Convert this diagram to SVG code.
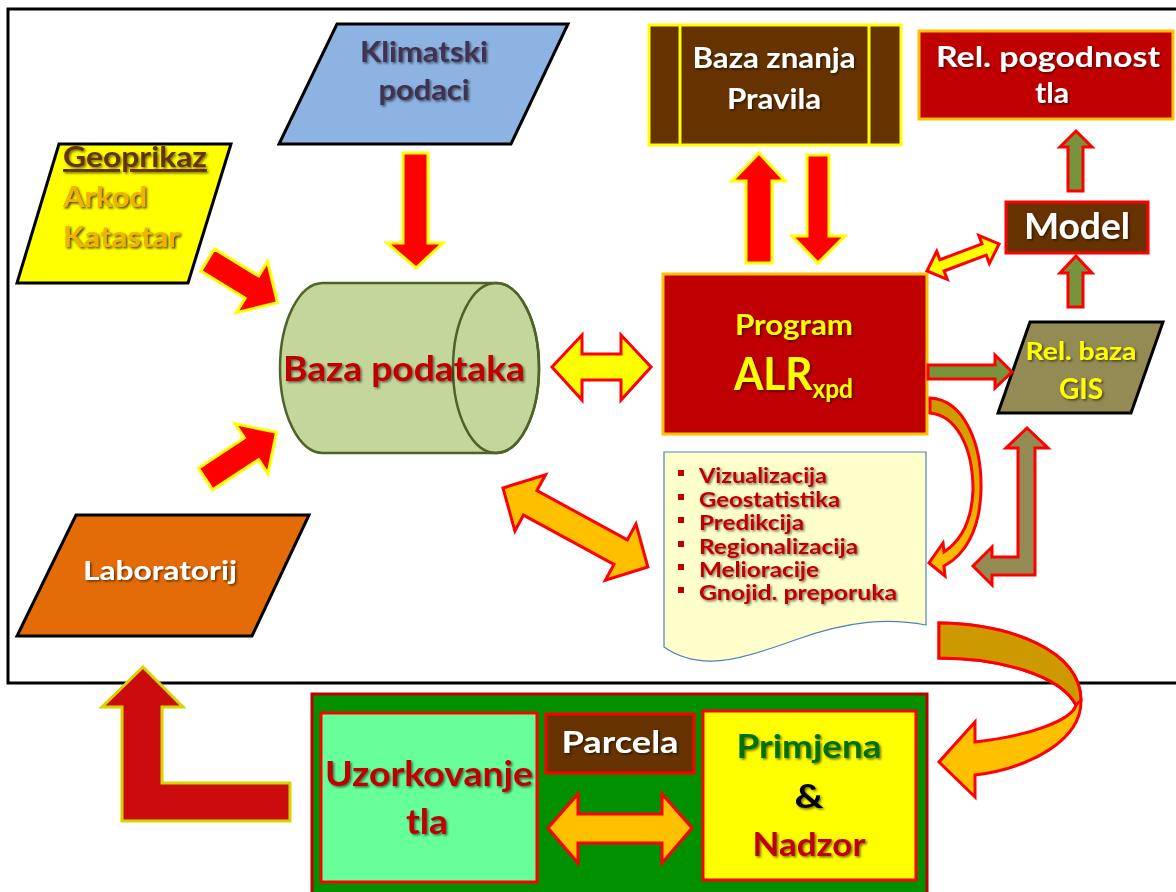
<svg xmlns="http://www.w3.org/2000/svg" width="1176" height="892" viewBox="0 0 1176 892">
<defs>
<filter id="sh" x="-10%" y="-20%" width="120%" height="150%">
<feDropShadow dx="1.5" dy="1.5" stdDeviation="1" flood-color="#000" flood-opacity="0.55"/>
</filter>
<filter id="sh2" x="-10%" y="-20%" width="120%" height="150%">
<feDropShadow dx="1.5" dy="1.5" stdDeviation="0.8" flood-color="#3a2000" flood-opacity="0.9"/>
</filter>
<linearGradient id="cg" x1="0" y1="0" x2="0" y2="1">
<stop offset="0" stop-color="#c99700"/>
<stop offset="1" stop-color="#ffc000"/>
</linearGradient>
<style>
text{font-family:Lato,"Open Sans","DejaVu Sans",sans-serif;font-weight:bold;}
.sh{filter:url(#sh);}
.sh2{filter:url(#sh2);}
.blk{stroke:#000;stroke-width:3;}
.red{stroke:#ff0000;stroke-width:3;}
.ylw{stroke:#ffff00;stroke-width:3;}
.gld{stroke:#ffc000;stroke-width:3;}
.arR{fill:#ff0000;stroke:#ffff00;stroke-width:3;stroke-linejoin:miter;}
.arO{fill:#77933c;stroke:#ff0000;stroke-width:3;}
.arK{fill:#948a54;stroke:#ff0000;stroke-width:3;}
.arY{fill:#ffff00;stroke:#ff0000;stroke-width:3;}
.arG{fill:#ffc000;stroke:#ff0000;stroke-width:3;}
.li{fill:#c00000;font-size:20px;}
</style>
</defs>
<rect width="1176" height="892" fill="#ffffff"/>
<path d="M1180,9 H8 V683 H1180" fill="none" stroke="#000" stroke-width="3"/>

<g id="geoprikaz">
<polygon points="59,144 231,144 188,283 17,283" fill="#ffff00" class="blk"/>
<text x="63" y="167" font-size="29" fill="#663300" text-decoration="underline" textLength="144" lengthAdjust="spacingAndGlyphs" class="sh">Geoprikaz</text>
<text x="63" y="207" font-size="29" fill="#f0b400" textLength="84" lengthAdjust="spacingAndGlyphs" class="sh2">Arkod</text>
<text x="63" y="247" font-size="29" fill="#f0b400" textLength="117" lengthAdjust="spacingAndGlyphs" class="sh2">Katastar</text>
</g>

<g id="klimatski">
<polygon points="337,24 568,24 511,144 279,144" fill="#8db3e2" class="blk"/>
<text x="424" y="62" font-size="28" fill="#3f3151" text-anchor="middle" textLength="128" lengthAdjust="spacingAndGlyphs" class="sh">Klimatski</text>
<text x="424" y="100" font-size="28" fill="#3f3151" text-anchor="middle" textLength="91" lengthAdjust="spacingAndGlyphs" class="sh">podaci</text>
</g>

<g id="baza-podataka">
<path d="M323,283 H496 A43,85 0 0 1 496,453 H323 A43,85 0 0 1 323,283 Z" fill="#c3d69b" stroke="#4f6228" stroke-width="2.5"/>
<ellipse cx="496" cy="368" rx="43" ry="85" fill="none" stroke="#4f6228" stroke-width="2.5"/>
<text x="404" y="381" font-size="35" fill="#c00000" text-anchor="middle" textLength="242" lengthAdjust="spacingAndGlyphs" class="sh">Baza podataka</text>
</g>

<g id="laboratorij">
<polygon points="76,515 309,515 252,636 17,636" fill="#e36c09" class="blk"/>
<text x="160" y="580" font-size="26" fill="#ffffff" text-anchor="middle" textLength="154" lengthAdjust="spacingAndGlyphs" class="sh">Laboratorij</text>
</g>

<g id="baza-znanja">
<rect x="649" y="25" width="252" height="120" fill="#663300" class="ylw"/>
<line x1="680" y1="25" x2="680" y2="145" class="ylw"/>
<line x1="869" y1="25" x2="869" y2="145" class="ylw"/>
<text x="774" y="68" font-size="28" fill="#ffffff" text-anchor="middle" textLength="163" lengthAdjust="spacingAndGlyphs" class="sh">Baza znanja</text>
<text x="774" y="109" font-size="28" fill="#ffffff" text-anchor="middle" textLength="94" lengthAdjust="spacingAndGlyphs" class="sh">Pravila</text>
</g>

<g id="rel-pogodnost">
<rect x="919" y="31" width="254" height="88" fill="#c00000" class="gld"/>
<text x="1048" y="67" font-size="29" fill="#ffffff" text-anchor="middle" textLength="224" lengthAdjust="spacingAndGlyphs" class="sh">Rel. pogodnost</text>
<text x="1052" y="103" font-size="29" fill="#ffffff" text-anchor="middle" textLength="34" lengthAdjust="spacingAndGlyphs" class="sh">tla</text>
</g>

<g id="model">
<rect x="1006" y="202" width="142" height="51" fill="#663300" class="red"/>
<text x="1077" y="239" font-size="37" fill="#ffffff" text-anchor="middle" textLength="106" lengthAdjust="spacingAndGlyphs" class="sh">Model</text>
</g>

<g id="program">
<rect x="663" y="274" width="264" height="160" fill="#c00000" class="gld"/>
<text x="794" y="335" font-size="29" fill="#ffff00" text-anchor="middle" textLength="118" lengthAdjust="spacingAndGlyphs" class="sh">Program</text>
<text x="734" y="390" font-size="45" fill="#ffff00" textLength="119" lengthAdjust="spacingAndGlyphs" class="sh">ALR<tspan font-size="26" dy="8">xpd</tspan></text>
</g>

<g id="gis">
<polygon points="1030,322 1163,322 1131,413 998,413" fill="#948a54" class="blk"/>
<text x="1081" y="360" font-size="24" fill="#ffff00" text-anchor="middle" textLength="111" lengthAdjust="spacingAndGlyphs" class="sh">Rel. baza</text>
<text x="1081" y="399" font-size="29" fill="#ffff00" text-anchor="middle" textLength="44" lengthAdjust="spacingAndGlyphs" class="sh">GIS</text>
</g>

<g id="dokument">
<path d="M664,452 H926 V625 C890,618 850,620 795,640 C740,660 700,672 664,647 Z" fill="#ffffcc" stroke="#4f81bd" stroke-width="1.2"/>
<g fill="#c00000">
<rect x="678" y="470" width="6" height="6"/>
<rect x="678" y="494" width="6" height="6"/>
<rect x="678" y="517" width="6" height="6"/>
<rect x="678" y="541" width="6" height="6"/>
<rect x="678" y="564" width="6" height="6"/>
<rect x="678" y="587" width="6" height="6"/>
</g>
<text x="699" y="483" class="li sh" textLength="128" lengthAdjust="spacingAndGlyphs">Vizualizacija</text>
<text x="699" y="507" class="li sh" textLength="141" lengthAdjust="spacingAndGlyphs">Geostatistika</text>
<text x="699" y="530" class="li sh" textLength="105" lengthAdjust="spacingAndGlyphs">Predikcija</text>
<text x="699" y="554" class="li sh" textLength="159" lengthAdjust="spacingAndGlyphs">Regionalizacija</text>
<text x="699" y="577" class="li sh" textLength="120" lengthAdjust="spacingAndGlyphs">Melioracije</text>
<text x="699" y="600" class="li sh" textLength="198" lengthAdjust="spacingAndGlyphs">Gnojid. preporuka</text>
</g>

<g id="parcela-okvir">
<rect x="312" y="694" width="615" height="200" fill="#009000" stroke="#c00000" stroke-width="3"/>
</g>
<g id="uzorkovanje">
<rect x="321" y="713" width="216" height="169" fill="#66ff99" class="red"/>
<text x="429" y="786" font-size="34" fill="#c00000" text-anchor="middle" textLength="208" lengthAdjust="spacingAndGlyphs" class="sh">Uzorkovanje</text>
<text x="427" y="834" font-size="34" fill="#c00000" text-anchor="middle" textLength="42" lengthAdjust="spacingAndGlyphs" class="sh">tla</text>
</g>
<g id="parcela">
<rect x="546" y="714" width="148" height="59" fill="#663300" class="red"/>
<text x="620" y="753" font-size="31" fill="#ffffff" text-anchor="middle" textLength="117" lengthAdjust="spacingAndGlyphs" class="sh">Parcela</text>
</g>
<g id="primjena">
<rect x="703" y="711" width="213" height="169" fill="#ffff00" class="red"/>
<text x="809" y="758" font-size="32" fill="#007000" text-anchor="middle" textLength="145" lengthAdjust="spacingAndGlyphs" class="sh">Primjena</text>
<text x="809" y="808" font-size="32" fill="#000000" text-anchor="middle" textLength="29" lengthAdjust="spacingAndGlyphs" class="sh">&amp;</text>
<text x="809" y="856" font-size="32" fill="#c00000" text-anchor="middle" textLength="113" lengthAdjust="spacingAndGlyphs" class="sh">Nadzor</text>
</g>

<g id="connectors">
<polygon class="arR" points="403,153 428,153 428,243 443,243 416,268 387,243 403,243"/>
<polygon class="arR" transform="translate(207.5,260) rotate(31.4)" points="0,-13 52,-13 52,-30 82,0 52,30 52,13 0,13"/>
<polygon class="arR" transform="translate(205.5,479) rotate(-33.3)" points="0,-13 55,-13 55,-30 85,0 55,30 55,13 0,13"/>
<polygon class="arY" points="552,367 582,335 582,354 621,354 621,335 651,367 621,400 621,380 582,380 582,400"/>
<polygon class="arG" transform="translate(503,488) rotate(28.6)" points="0,0 31,-32 31,-14 134,-14 134,-32 165,0 134,32 134,14 31,14 31,32"/>
<polygon class="arR" points="759,153 785,181 772,181 772,263 746,263 746,181 732,181"/>
<polygon class="arR" points="807,155 829,155 829,236 845,236 818,263 792,236 807,236"/>
<polygon class="arY" transform="translate(927,271) rotate(-20.6)" points="0,0 16,-15 16,-6 61,-6 61,-15 77,0 61,15 61,6 16,6 16,15"/>
<polygon class="arO" points="1068,191 1068,147 1060,147 1076,131 1092,147 1083,147 1083,191"/>
<polygon class="arO" points="1068,307 1068,273 1060,273 1076,256 1092,273 1083,273 1083,307"/>
<polygon class="arO" points="928,365 995,365 995,355 1012,372 995,388 995,379 928,379"/>
<path class="arK" d="M1027,428 L1048,448 L1035,448 L1035,575 L992,575 L992,585 L973,566 L992,547 L992,557 L1018,557 L1018,448 L1006,448 Z"/>
<path d="M930,398 C965,400 982,445 981,490 C980,530 965,555 944,566 L945,576 L929,563 L943,543 L944,552 C962,540 972,520 973,490 C973,445 955,415 930,413 Z" fill="url(#cg)" stroke="#ff0000" stroke-width="3"/>
<path d="M939,623 C1010,624 1080,650 1081,700 C1082,740 1030,768 975,775 L975,797 L939,762 L975,722 L975,742 C1030,736 1072,720 1076,705 C1060,675 1000,658 939,658 Z" fill="#ffc000" stroke="#ff0000" stroke-width="3"/>
<path d="M939,623 C1010,624 1080,650 1081,700 L1076,705 C1060,675 1000,658 939,658 Z" fill="#cc9900" stroke="#ff0000" stroke-width="3"/>
<path d="M143,667 L183,707 L162,707 L162,783 L290,783 L290,821 L122,821 L122,707 L102,707 Z" fill="#cc0c0c" stroke="#d4d400" stroke-width="3"/>
<polygon class="arG" points="548,828 578,794 578,814 662,814 662,794 692,828 662,863 662,843 578,843 578,863"/>
</g>
</svg>
